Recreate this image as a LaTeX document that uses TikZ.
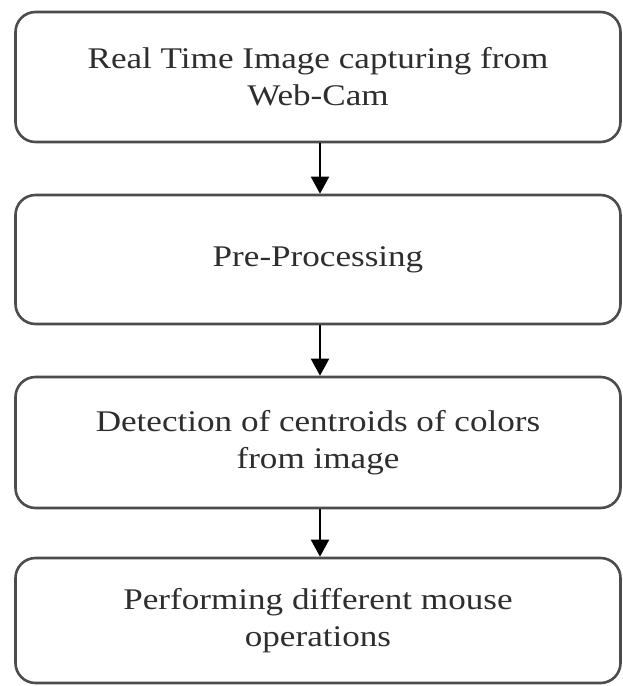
\documentclass[tikz,border=0pt]{standalone}
\usepackage{fontspec}
\setmainfont[FakeStretch=1.17]{Liberation Serif}
\usetikzlibrary{arrows.meta}
\begin{document}
\begin{tikzpicture}[x=1pt,y=-1pt,
  box/.style={draw=black!70, line width=2.6pt, rounded corners=20pt, fill=white,
    minimum width=605pt, align=center, text=black!82,
    font=\fontsize{30}{37}\selectfont, inner sep=0pt},
  flow/.style={-{Triangle[length=17pt,width=18pt]}, line width=2pt, black}]
\useasboundingbox (0,0) rectangle (622,686);
\node[box, minimum height=130pt] (b1) at (318,77) {Real Time Image capturing from\\Web-Cam};
\node[box, minimum height=129pt] (b2) at (318,259.5) {Pre-Processing};
\node[box, minimum height=131pt] (b3) at (318,442.5) {Detection of centroids of colors\\from image};
\node[box, minimum height=125pt] (b4) at (318,620.5) {Performing different mouse\\operations};
\draw[flow] (b1.south -| 320,0) -- (b2.north -| 320,0);
\draw[flow] (b2.south -| 320,0) -- (b3.north -| 320,0);
\draw[flow] (b3.south -| 320,0) -- (b4.north -| 320,0);
\end{tikzpicture}
\end{document}
